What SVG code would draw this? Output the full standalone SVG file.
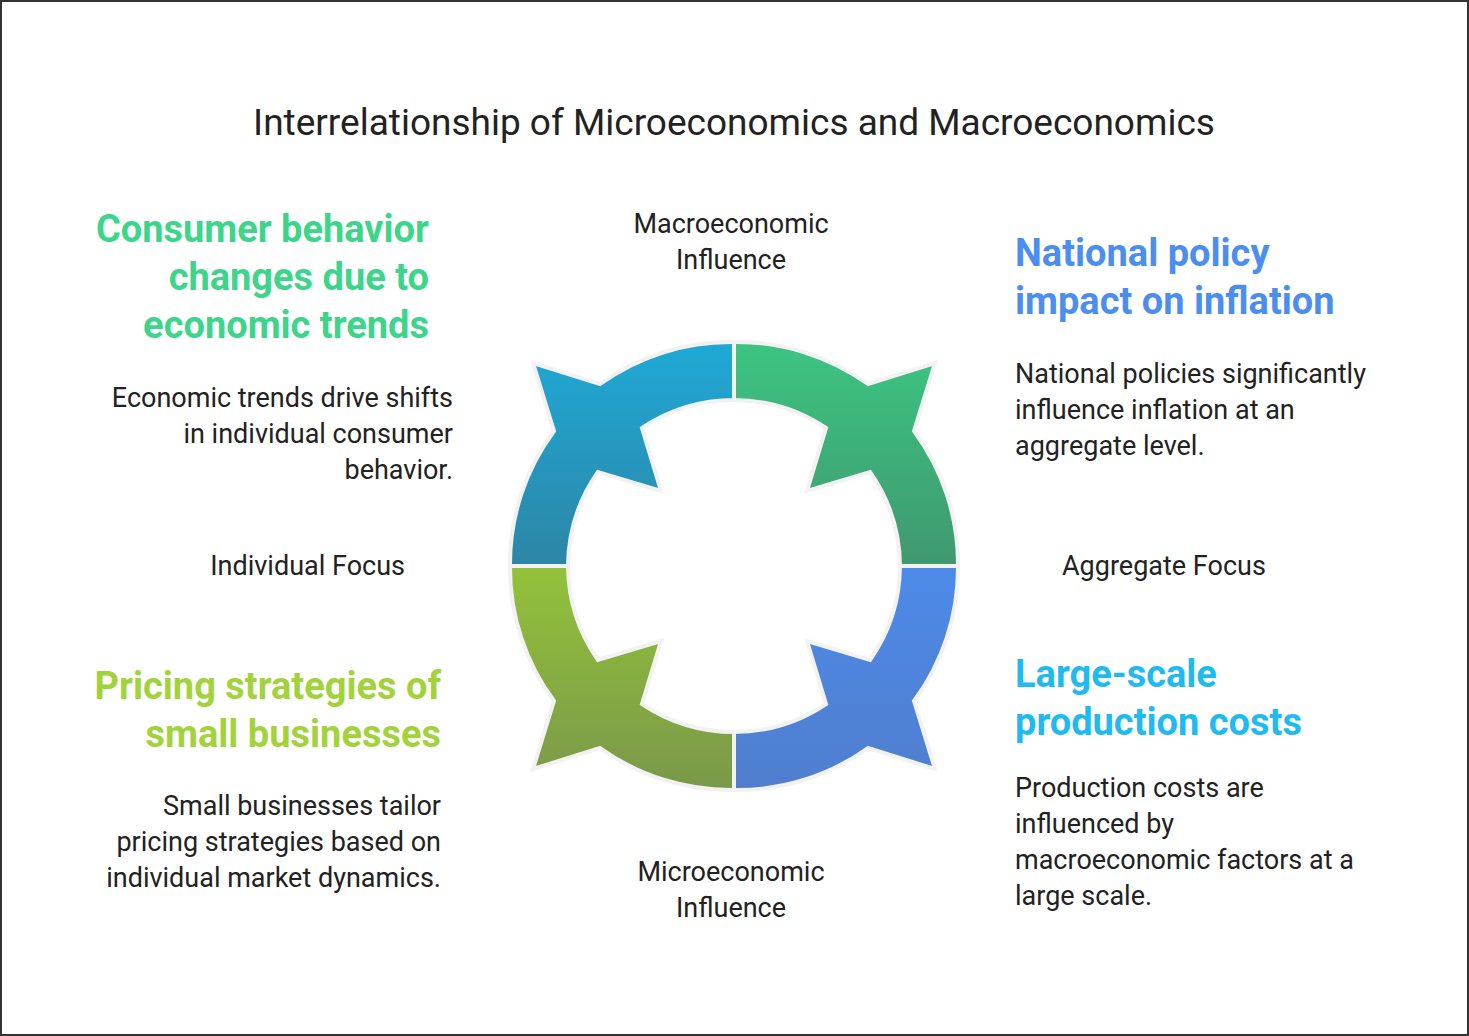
<svg xmlns="http://www.w3.org/2000/svg" width="1469" height="1036" viewBox="0 0 1469 1036">
<style>
text{font-family:Roboto,"Liberation Sans",sans-serif;fill:#222}
.t{font-size:37px}
.l{font-size:27px}
.h{font-size:38px;font-weight:bold}
.b{font-size:27px}
.seg{stroke:#f2f2f2;stroke-width:4;stroke-linejoin:miter}
</style>
<defs>
<linearGradient id="gTL" x1="0" y1="0" x2="0" y2="1"><stop offset="0" stop-color="#1fa9d6"/><stop offset="1" stop-color="#2c86a6"/></linearGradient>
<linearGradient id="gTR" x1="0" y1="0" x2="0" y2="1"><stop offset="0" stop-color="#3cc583"/><stop offset="1" stop-color="#40986f"/></linearGradient>
<linearGradient id="gBL" x1="0" y1="0" x2="0" y2="1"><stop offset="0" stop-color="#93c23a"/><stop offset="1" stop-color="#7a984a"/></linearGradient>
<linearGradient id="gBR" x1="0" y1="0" x2="0" y2="1"><stop offset="0" stop-color="#4d8ae9"/><stop offset="1" stop-color="#507ecd"/></linearGradient>
</defs>
<rect x="1" y="1" width="1467" height="1034" fill="#fff" stroke="#333" stroke-width="2"/>
<text class="t" x="734" y="135" text-anchor="middle">Interrelationship of Microeconomics and Macroeconomics</text>
<g id="connectors"></g>
<g id="seg-tl"><path class="seg" fill="url(#gTL)" d="M510,566 A224,224 0 0 1 554,431 L533,363 L600,384 A224,224 0 0 1 734,342 L734,400 A166,166 0 0 0 642,428 L661,491 L598,472 A166,166 0 0 0 568,566 Z"/></g>
<g id="seg-tr"><path class="seg" fill="url(#gTR)" d="M958,566 A224,224 0 0 0 914,431 L935,363 L868,384 A224,224 0 0 0 734,342 L734,400 A166,166 0 0 1 826,428 L807,491 L870,472 A166,166 0 0 1 900,566 Z"/></g>
<g id="seg-bl"><path class="seg" fill="url(#gBL)" d="M510,566 A224,224 0 0 0 554,701 L533,769 L600,748 A224,224 0 0 0 734,790 L734,732 A166,166 0 0 1 642,704 L661,641 L598,660 A166,166 0 0 1 568,566 Z"/></g>
<g id="seg-br"><path class="seg" fill="url(#gBR)" d="M958,566 A224,224 0 0 1 914,701 L935,769 L868,748 A224,224 0 0 1 734,790 L734,732 A166,166 0 0 0 826,704 L807,641 L870,660 A166,166 0 0 0 900,566 Z"/></g>
<g id="lbl-macro"><text class="l" x="731" y="233" text-anchor="middle">Macroeconomic</text><text class="l" x="731" y="269" text-anchor="middle">Influence</text></g>
<g id="lbl-micro"><text class="l" x="731" y="881" text-anchor="middle">Microeconomic</text><text class="l" x="731" y="917" text-anchor="middle">Influence</text></g>
<g id="lbl-ind"><text class="l" x="405" y="575" text-anchor="end">Individual Focus</text></g>
<g id="lbl-agg"><text class="l" x="1062" y="575">Aggregate Focus</text></g>
<g id="n-consumer">
<text class="h" x="429" y="242" text-anchor="end" style="fill:#3dd58a">Consumer behavior</text>
<text class="h" x="429" y="290" text-anchor="end" style="fill:#3dd58a">changes due to</text>
<text class="h" x="429" y="338" text-anchor="end" style="fill:#3dd58a">economic trends</text>
<text class="b" x="453" y="407" text-anchor="end">Economic trends drive shifts</text>
<text class="b" x="453" y="443" text-anchor="end">in individual consumer</text>
<text class="b" x="453" y="479" text-anchor="end">behavior.</text>
</g>
<g id="n-national">
<text class="h" x="1015" y="266" style="fill:#4b8ef0">National policy</text>
<text class="h" x="1015" y="314" style="fill:#4b8ef0">impact on inflation</text>
<text class="b" x="1015" y="383">National policies significantly</text>
<text class="b" x="1015" y="419">influence inflation at an</text>
<text class="b" x="1015" y="455">aggregate level.</text>
</g>
<g id="n-pricing">
<text class="h" x="441" y="699" text-anchor="end" style="fill:#a3d33c">Pricing strategies of</text>
<text class="h" x="441" y="747" text-anchor="end" style="fill:#a3d33c">small businesses</text>
<text class="b" x="441" y="815" text-anchor="end">Small businesses tailor</text>
<text class="b" x="441" y="851" text-anchor="end">pricing strategies based on</text>
<text class="b" x="441" y="887" text-anchor="end">individual market dynamics.</text>
</g>
<g id="n-large">
<text class="h" x="1015" y="687" style="fill:#1fbaf0">Large-scale</text>
<text class="h" x="1015" y="735" style="fill:#1fbaf0">production costs</text>
<text class="b" x="1015" y="797">Production costs are</text>
<text class="b" x="1015" y="833">influenced by</text>
<text class="b" x="1015" y="869">macroeconomic factors at a</text>
<text class="b" x="1015" y="905">large scale.</text>
</g>
</svg>
